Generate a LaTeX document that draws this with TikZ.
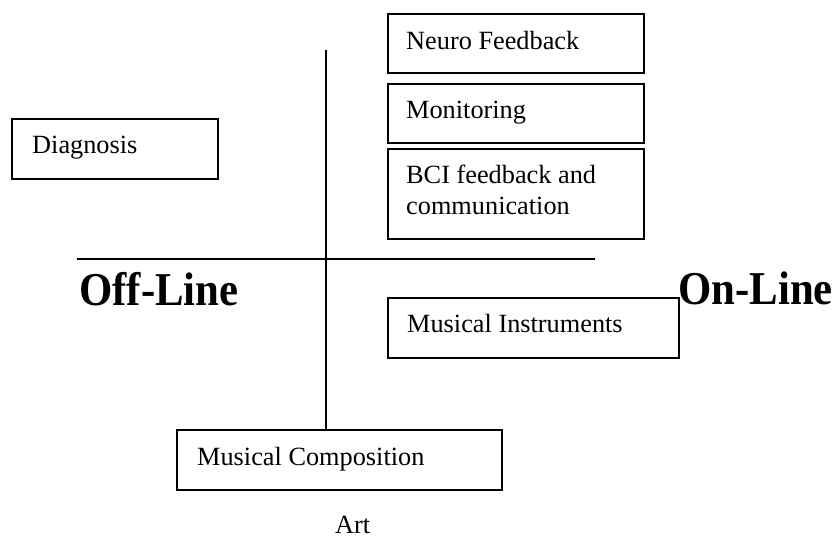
\documentclass[tikz,border=0pt]{standalone}
\usepackage{fontspec}
\setmainfont{Liberation Serif}
\begin{document}
\begin{tikzpicture}[x=1pt,y=-1pt,
  box/.style={draw, line width=2.2pt, rectangle, inner sep=0pt, anchor=north west},
  lbl/.style={inner sep=0pt, anchor=base west, font=\fontsize{26.3}{31}\selectfont},
  axislbl/.style={inner sep=0pt, anchor=base west, font=\fontsize{42.8}{48}\selectfont\bfseries},
  axis/.style={line width=1.8pt}]
\useasboundingbox (0,0) rectangle (832,539);

% boxes
\node[box, minimum width=256pt, minimum height=59pt] (nf)   at (387,13)  {};
\node[box, minimum width=256pt, minimum height=59pt] (mon)  at (387,83)  {};
\node[box, minimum width=256pt, minimum height=90pt] (bci)  at (387,148) {};
\node[box, minimum width=206pt, minimum height=60pt] (diag) at (11,118)  {};
\node[box, minimum width=291pt, minimum height=60pt] (inst) at (387,297) {};
\node[box, minimum width=325pt, minimum height=60pt] (comp) at (176,429) {};

% box texts
\node[lbl] (nft)   at (406,49)  {Neuro Feedback};
\node[lbl] (mont)  at (406,118) {Monitoring};
\node[lbl, align=left] (bcit) at (406,214) {BCI feedback and\\communication};
\node[lbl] (diagt) at (32,153)  {Diagnosis};
\node[lbl] (instt) at (407,332) {Musical Instruments};
\node[lbl] (compt) at (197,465) {Musical Composition};
\node[lbl] (art)   at (335,533) {Art};

% axis labels, set slightly tall
\node[axislbl] (off) at (79,305)  {\scalebox{1}[1.1]{Off-Line}};
\node[axislbl] (on)  at (678,304) {\scalebox{1}[1.1]{On-Line}};

% axes
\coordinate (vtop) at (326,50);
\coordinate (hl) at (77,259);
\coordinate (hr) at (595,259);
\draw[axis] (vtop) -- (vtop |- comp.north);
\draw[axis] (hl) -- (hr);
\end{tikzpicture}
\end{document}
